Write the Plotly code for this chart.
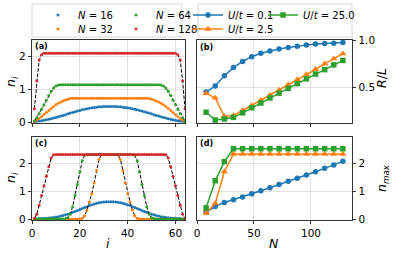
import plotly.graph_objects as go

# ---------------- data ----------------
sites = list(range(1, 65))

# panel (a): U/t = 0.1 density profiles n_i
dens_a_N16 = [0.01, 0.02, 0.03, 0.04, 0.05, 0.07, 0.08, 0.10, 0.12, 0.14, 0.16, 0.18, 0.20, 0.22, 0.25, 0.27,
              0.29, 0.31, 0.33, 0.35, 0.37, 0.39, 0.40, 0.42, 0.43, 0.44, 0.45, 0.46, 0.46, 0.47, 0.47, 0.47,
              0.47, 0.47, 0.47, 0.46, 0.46, 0.45, 0.44, 0.43, 0.42, 0.40, 0.39, 0.37, 0.35, 0.33, 0.31, 0.29,
              0.27, 0.25, 0.22, 0.20, 0.18, 0.16, 0.14, 0.12, 0.10, 0.08, 0.07, 0.05, 0.04, 0.03, 0.02, 0.01]
dens_a_N32 = [0.02, 0.06, 0.11, 0.17, 0.23, 0.29, 0.35, 0.41, 0.47, 0.52, 0.57, 0.61, 0.64, 0.67, 0.69, 0.71,
              0.72, 0.72, 0.72, 0.72, 0.72, 0.72, 0.72, 0.72, 0.72, 0.72, 0.72, 0.72, 0.72, 0.72, 0.72, 0.72,
              0.72, 0.72, 0.72, 0.72, 0.72, 0.72, 0.72, 0.72, 0.72, 0.72, 0.72, 0.72, 0.72, 0.72, 0.72, 0.72,
              0.71, 0.69, 0.67, 0.64, 0.61, 0.57, 0.52, 0.47, 0.41, 0.35, 0.29, 0.23, 0.17, 0.11, 0.06, 0.02]
dens_a_N64 = [0.03, 0.13, 0.26, 0.39, 0.52, 0.66, 0.80, 0.93, 1.03, 1.09, 1.12, 1.13, 1.13, 1.13, 1.13, 1.13,
              1.13, 1.13, 1.13, 1.13, 1.13, 1.13, 1.13, 1.13, 1.13, 1.13, 1.13, 1.13, 1.13, 1.13, 1.13, 1.13,
              1.13, 1.13, 1.13, 1.13, 1.13, 1.13, 1.13, 1.13, 1.13, 1.13, 1.13, 1.13, 1.13, 1.13, 1.13, 1.13,
              1.13, 1.13, 1.13, 1.13, 1.13, 1.12, 1.09, 1.03, 0.93, 0.80, 0.66, 0.52, 0.39, 0.26, 0.13, 0.03]
dens_a_N128 = [0.40, 1.25, 1.88, 2.04, 2.08, 2.08, 2.08, 2.08, 2.08, 2.08, 2.08, 2.08, 2.08, 2.08, 2.08, 2.08,
               2.08, 2.08, 2.08, 2.08, 2.08, 2.08, 2.08, 2.08, 2.08, 2.08, 2.08, 2.08, 2.08, 2.08, 2.08, 2.08,
               2.08, 2.08, 2.08, 2.08, 2.08, 2.08, 2.08, 2.08, 2.08, 2.08, 2.08, 2.08, 2.08, 2.08, 2.08, 2.08,
               2.08, 2.08, 2.08, 2.08, 2.08, 2.08, 2.08, 2.08, 2.08, 2.08, 2.08, 2.08, 2.04, 1.88, 1.25, 0.40]

# panel (c): U/t = 2.5 density profiles n_i
dens_c_N16 = [0.01, 0.01, 0.02, 0.02, 0.03, 0.03, 0.04, 0.05, 0.06, 0.08, 0.09, 0.11, 0.13, 0.16, 0.18, 0.21,
              0.25, 0.28, 0.31, 0.35, 0.38, 0.42, 0.45, 0.49, 0.52, 0.55, 0.57, 0.59, 0.61, 0.62, 0.63, 0.63,
              0.63, 0.63, 0.62, 0.61, 0.59, 0.57, 0.55, 0.52, 0.49, 0.45, 0.42, 0.38, 0.35, 0.31, 0.28, 0.25,
              0.21, 0.18, 0.16, 0.13, 0.11, 0.09, 0.08, 0.06, 0.05, 0.04, 0.03, 0.03, 0.02, 0.02, 0.01, 0.01]
dens_c_N32 = [0.00, 0.00, 0.00, 0.00, 0.00, 0.00, 0.00, 0.00, 0.00, 0.00, 0.00, 0.00, 0.00, 0.00, 0.00, 0.00,
              0.00, 0.00, 0.00, 0.01, 0.03, 0.12, 0.33, 0.62, 0.92, 1.30, 1.75, 2.15, 2.31, 2.33, 2.33, 2.33,
              2.33, 2.33, 2.33, 2.31, 2.15, 1.75, 1.30, 0.92, 0.62, 0.33, 0.12, 0.03, 0.01, 0.00, 0.00, 0.00,
              0.00, 0.00, 0.00, 0.00, 0.00, 0.00, 0.00, 0.00, 0.00, 0.00, 0.00, 0.00, 0.00, 0.00, 0.00, 0.00]
dens_c_N64 = [0.01, 0.01, 0.01, 0.01, 0.01, 0.01, 0.01, 0.01, 0.01, 0.01, 0.01, 0.01, 0.01, 0.02, 0.05, 0.18,
              0.45, 0.85, 1.25, 1.70, 2.10, 2.30, 2.33, 2.33, 2.33, 2.33, 2.33, 2.33, 2.33, 2.33, 2.33, 2.33,
              2.33, 2.33, 2.33, 2.33, 2.33, 2.33, 2.33, 2.33, 2.33, 2.33, 2.30, 2.10, 1.70, 1.25, 0.85, 0.45,
              0.18, 0.05, 0.02, 0.01, 0.01, 0.01, 0.01, 0.01, 0.01, 0.01, 0.01, 0.01, 0.01, 0.01, 0.01, 0.01]
dens_c_N128 = [0.03, 0.18, 0.50, 0.85, 1.20, 1.55, 1.90, 2.20, 2.32, 2.33, 2.33, 2.33, 2.33, 2.33, 2.33, 2.33,
               2.33, 2.33, 2.33, 2.33, 2.33, 2.33, 2.33, 2.33, 2.33, 2.33, 2.33, 2.33, 2.33, 2.33, 2.33, 2.33,
               2.33, 2.33, 2.33, 2.33, 2.33, 2.33, 2.33, 2.33, 2.33, 2.33, 2.33, 2.33, 2.33, 2.33, 2.33, 2.33,
               2.33, 2.33, 2.33, 2.33, 2.33, 2.33, 2.33, 2.32, 2.20, 1.90, 1.55, 1.20, 0.85, 0.50, 0.18, 0.03]

# panels (b), (d): vs particle number N
N_vals = [8, 16, 24, 32, 40, 48, 56, 64, 72, 80, 88, 96, 104, 112, 120, 128]
RL_U01 = [0.446, 0.511, 0.620, 0.707, 0.772, 0.823, 0.859, 0.884, 0.905, 0.920, 0.935, 0.946, 0.957, 0.964, 0.967, 0.975]
RL_U25 = [0.432, 0.384, 0.188, 0.196, 0.250, 0.304, 0.359, 0.413, 0.467, 0.525, 0.579, 0.634, 0.688, 0.747, 0.801, 0.855]
RL_U250 = [0.232, 0.149, 0.160, 0.177, 0.225, 0.279, 0.329, 0.384, 0.435, 0.486, 0.536, 0.587, 0.638, 0.685, 0.736, 0.783]
nmax_U01 = [0.24, 0.45, 0.59, 0.69, 0.79, 0.90, 1.01, 1.12, 1.23, 1.35, 1.46, 1.57, 1.69, 1.81, 1.93, 2.06]
nmax_U25 = [0.21, 0.56, 1.69, 2.32, 2.32, 2.32, 2.32, 2.32, 2.32, 2.32, 2.32, 2.32, 2.32, 2.32, 2.32, 2.32]
nmax_U250 = [0.40, 1.37, 2.05, 2.51, 2.51, 2.51, 2.51, 2.51, 2.51, 2.51, 2.51, 2.51, 2.51, 2.51, 2.51, 2.51]

N_labels = ["16", "32", "64", "128"]
U_labels = ["0.1", "2.5", "25.0"]

# ---------------- style ----------------
W, H = 394, 257
FONT = "DejaVu Sans"
C = ["#1f77b4", "#ff7f0e", "#2ca02c", "#d62728"]
GRID = "#dadada"
DASH = "3.7px,1.6px"


def fx(p):
    return p / W


def fy(p):
    return 1 - p / H


fig = go.Figure()

dens_a = [dens_a_N16, dens_a_N32, dens_a_N64, dens_a_N128]
dens_c = [dens_c_N16, dens_c_N32, dens_c_N64, dens_c_N128]
legend_of_N = ["legend", "legend2", "legend", "legend2"]
legw_N = [33, 33, None, None]
dashed_a = [False, False, True, True]
dashed_c = [False, True, True, True]

for k in range(4):
    if dashed_a[k]:
        fig.add_trace(go.Scatter(x=sites, y=dens_a[k], mode="lines", xaxis="x", yaxis="y",
                                 line=dict(color="black", width=1, dash=DASH), showlegend=False,
                                 hoverinfo="skip"))
    fig.add_trace(go.Scatter(x=sites, y=dens_a[k], mode="markers", xaxis="x", yaxis="y",
                             marker=dict(color=C[k], size=3), name="<i>N</i> = " + N_labels[k],
                             legend=legend_of_N[k], legendwidth=legw_N[k], showlegend=True))
for k in range(4):
    if dashed_c[k]:
        fig.add_trace(go.Scatter(x=sites, y=dens_c[k], mode="lines", xaxis="x3", yaxis="y3",
                                 line=dict(color="black", width=1, dash=DASH), showlegend=False,
                                 hoverinfo="skip"))
    fig.add_trace(go.Scatter(x=sites, y=dens_c[k], mode="markers", xaxis="x3", yaxis="y3",
                             marker=dict(color=C[k], size=3), showlegend=False))

RL = [RL_U01, RL_U25, RL_U250]
NM = [nmax_U01, nmax_U25, nmax_U250]
symbols = ["circle", "triangle-up", "square"]
msizes = [5.5, 6.5, 5.5]
legend_of_U = ["legend3", "legend4", "legend3"]
legw_U = [30, None, None]
for k in range(3):
    fig.add_trace(go.Scatter(x=N_vals, y=RL[k], mode="lines+markers", xaxis="x2", yaxis="y2",
                             line=dict(color=C[k], width=1.5),
                             marker=dict(color=C[k], size=msizes[k], symbol=symbols[k]),
                             name="<i>U</i>/<i>t</i> = " + U_labels[k], legend=legend_of_U[k],
                             legendwidth=legw_U[k]))
    fig.add_trace(go.Scatter(x=N_vals, y=NM[k], mode="lines+markers", xaxis="x4", yaxis="y4",
                             line=dict(color=C[k], width=1.5),
                             marker=dict(color=C[k], size=msizes[k], symbol=symbols[k]),
                             showlegend=False))

tickfont = dict(family=FONT, size=10.5, color="black")


def xax(dom, rng, tv, labels):
    return dict(domain=dom, range=rng, tickvals=tv, showticklabels=labels, ticks="outside",
                ticklen=3.5, tickwidth=0.8, tickcolor="black", showline=True, mirror=True,
                linecolor="black", linewidth=0.8, showgrid=True, gridcolor=GRID, gridwidth=0.8,
                zeroline=False, tickfont=tickfont, fixedrange=True, automargin=False)


def yax(dom, rng, tv, tt, side, anchor):
    return dict(domain=dom, range=rng, tickvals=tv, ticktext=tt, side=side, anchor=anchor,
                ticks="outside", ticklen=3.5, tickwidth=0.8, tickcolor="black", showline=True,
                mirror=True, linecolor="black", linewidth=0.8, showgrid=True, gridcolor=GRID,
                gridwidth=0.8, zeroline=False, tickfont=tickfont, fixedrange=True, automargin=False)


left_dom = [fx(32), fx(185)]
right_dom = [fx(197), fx(352)]
top_dom = [fy(123), fy(40)]
bot_dom = [fy(220), fy(137)]

legend_common = dict(orientation="h", xanchor="left", yanchor="middle", xref="container",
                     yref="container", bgcolor="rgba(0,0,0,0)", borderwidth=0,
                     font=dict(family=FONT, size=10, color="black"),
                     itemclick=False, itemdoubleclick=False)

fig.update_layout(
    width=W, height=H, margin=dict(l=0, r=0, t=0, b=0, autoexpand=False),
    paper_bgcolor="white", plot_bgcolor="white",
    font=dict(family=FONT, color="black"),
    xaxis=xax(left_dom, [0, 64], [0, 20, 40, 60], False) | dict(anchor="y"),
    yaxis=yax(top_dom, [-0.03, 2.485], [0, 1, 2], ["0", "1", "2"], "left", "x"),
    xaxis2=xax(right_dom, [0, 136], [0, 50, 100], False) | dict(anchor="y2"),
    yaxis2=yax(top_dom, [0.117, 1.0005], [0.5, 1.0], ["0.5", "1.0"], "right", "x2"),
    xaxis3=xax(left_dom, [0, 64], [0, 20, 40, 60], True) | dict(anchor="y3"),
    yaxis3=yax(bot_dom, [-0.03, 2.96], [0, 1, 2], ["0", "1", "2"], "left", "x3"),
    xaxis4=xax(right_dom, [0, 136], [0, 50, 100], True) | dict(anchor="y4"),
    yaxis4=yax(bot_dom, [-0.035, 2.93], [0, 1, 2], ["0", "1", "2"], "right", "x4"),
    legend=legend_common | dict(x=fx(38), y=fy(15)),
    legend2=legend_common | dict(x=fx(38), y=fy(29)),
    legend3=legend_common | dict(x=fx(188), y=fy(15)),
    legend4=legend_common | dict(x=fx(188), y=fy(29)),
    showlegend=True,
)

# legend frames
for x0, x1 in [(32, 182), (198, 352)]:
    fig.add_shape(type="rect", xref="paper", yref="paper", x0=fx(x0), x1=fx(x1), y0=fy(37), y1=fy(4),
                  line=dict(color="#cccccc", width=0.8), fillcolor="rgba(255,255,255,0.8)", layer="below")

# panel labels
for lab, x, y in [("(a)", 33, 46), ("(b)", 198, 47), ("(c)", 33, 143), ("(d)", 198, 143)]:
    fig.add_annotation(text="<b>" + lab + "</b>", x=fx(x), y=fy(y), xref="paper", yref="paper",
                       xanchor="left", yanchor="middle", showarrow=False,
                       font=dict(family=FONT, size=8, color="black"))

# axis titles
lab_font = dict(family=FONT, size=12.5, color="black")
for txt, x, y, ang in [("<i>n</i><sub><i>i</i></sub>", 11, 82, -90),
                       ("<i>n</i><sub><i>i</i></sub>", 11, 178, -90),
                       ("<i>i</i>", 108, 243, 0),
                       ("<i>N</i>", 274, 243, 0),
                       ("<i>R</i>/<i>L</i>", 381, 78, -90),
                       ("<i>n</i><sub><i>max</i></sub>", 382, 178, -90)]:
    fig.add_annotation(text=txt, x=fx(x), y=fy(y), xref="paper", yref="paper", xanchor="center",
                       yanchor="middle", showarrow=False, textangle=ang, font=lab_font)

fig.write_html("out.html",
               config={"displayModeBar": False, "staticPlot": True},
               post_script="document.body.style.margin='0px';document.body.style.padding='0px';"
                           "document.body.style.overflow='hidden';")
